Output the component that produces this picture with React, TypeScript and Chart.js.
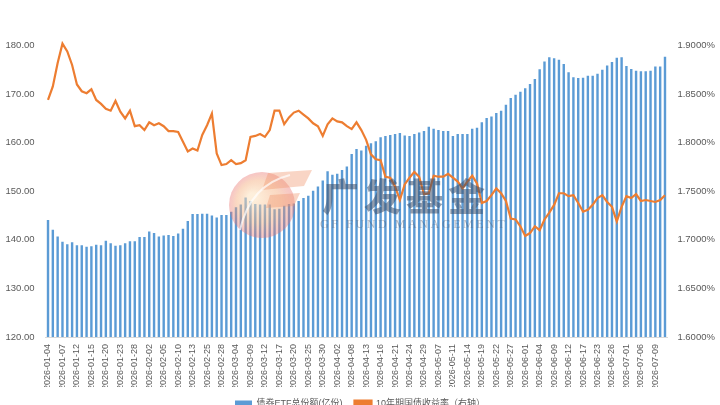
import React, { useEffect, useRef } from 'react';
import { Chart, registerables } from 'chart.js';

Chart.register(...registerables);

const dates = [
  '2026-01-04','2026-01-05','2026-01-06','2026-01-07','2026-01-08','2026-01-09','2026-01-12','2026-01-13','2026-01-14','2026-01-15',
  '2026-01-16','2026-01-19','2026-01-20','2026-01-21','2026-01-22','2026-01-23','2026-01-26','2026-01-27','2026-01-28','2026-01-29',
  '2026-01-30','2026-02-02','2026-02-03','2026-02-04','2026-02-05','2026-02-06','2026-02-09','2026-02-10','2026-02-11','2026-02-12',
  '2026-02-13','2026-02-14','2026-02-24','2026-02-25','2026-02-26','2026-02-27','2026-02-28','2026-03-02','2026-03-03','2026-03-04',
  '2026-03-05','2026-03-06','2026-03-09','2026-03-10','2026-03-11','2026-03-12','2026-03-13','2026-03-16','2026-03-17','2026-03-18',
  '2026-03-19','2026-03-20','2026-03-23','2026-03-24','2026-03-25','2026-03-26','2026-03-27','2026-03-30','2026-03-31','2026-04-01',
  '2026-04-02','2026-04-03','2026-04-07','2026-04-08','2026-04-09','2026-04-10','2026-04-13','2026-04-14','2026-04-15','2026-04-16',
  '2026-04-17','2026-04-20','2026-04-21','2026-04-22','2026-04-23','2026-04-24','2026-04-27','2026-04-28','2026-04-29','2026-04-30',
  '2026-05-06','2026-05-07','2026-05-08','2026-05-09','2026-05-11','2026-05-12','2026-05-13','2026-05-14','2026-05-15','2026-05-18',
  '2026-05-19','2026-05-20','2026-05-21','2026-05-22','2026-05-25','2026-05-26','2026-05-27','2026-05-28','2026-05-29','2026-06-01',
  '2026-06-02','2026-06-03','2026-06-04','2026-06-05','2026-06-08','2026-06-09','2026-06-10','2026-06-11','2026-06-12','2026-06-15',
  '2026-06-16','2026-06-17','2026-06-18','2026-06-22','2026-06-23','2026-06-24','2026-06-25','2026-06-26','2026-06-29','2026-06-30',
  '2026-07-01','2026-07-02','2026-07-03','2026-07-06','2026-07-07','2026-07-08','2026-07-09','2026-07-10','2026-07-13'
];

const etfShares = [
  144.1,142.1,140.7,139.6,139.1,139.5,138.9,138.9,138.6,138.7,
  139.0,138.9,139.8,139.3,138.8,138.9,139.3,139.7,139.7,140.6,
  140.6,141.7,141.4,140.7,140.9,141.0,140.8,141.3,142.3,143.9,
  145.3,145.3,145.4,145.4,145.0,144.6,145.1,145.1,145.8,146.7,
  147.3,148.7,148.0,147.4,147.3,147.3,147.3,146.3,146.4,147.0,
  147.4,147.5,148.0,148.6,149.1,150.1,151.0,152.2,154.1,153.4,
  153.6,154.4,155.1,157.7,158.7,158.4,159.4,159.9,160.3,161.1,
  161.4,161.6,161.8,162.0,161.5,161.4,161.8,162.1,162.4,163.3,
  162.9,162.6,162.4,162.4,161.4,161.8,161.8,161.8,162.9,163.1,
  164.2,165.1,165.4,166.1,166.6,167.8,169.2,169.9,170.5,171.2,
  172.1,173.1,175.1,176.7,177.6,177.4,177.1,176.2,174.5,173.5,
  173.3,173.4,173.8,173.8,174.2,175.0,175.9,176.6,177.5,177.6,
  175.8,175.2,174.8,174.7,174.7,174.8,175.7,175.7,177.7
];

const yield10y = [
  1.844,1.858,1.882,1.902,1.894,1.880,1.860,1.853,1.851,1.855,
  1.844,1.840,1.835,1.833,1.843,1.832,1.825,1.833,1.817,1.818,
  1.813,1.821,1.818,1.820,1.817,1.812,1.812,1.811,1.801,1.791,
  1.794,1.792,1.808,1.818,1.830,1.789,1.777,1.778,1.782,1.778,
  1.779,1.782,1.806,1.807,1.809,1.806,1.813,1.833,1.833,1.819,
  1.826,1.831,1.833,1.829,1.825,1.820,1.817,1.807,1.819,1.825,
  1.822,1.821,1.817,1.814,1.821,1.813,1.803,1.788,1.783,1.782,
  1.765,1.764,1.755,1.741,1.757,1.764,1.770,1.765,1.747,1.748,
  1.766,1.765,1.765,1.768,1.764,1.760,1.753,1.760,1.766,1.758,
  1.738,1.740,1.746,1.753,1.748,1.740,1.722,1.721,1.714,1.704,
  1.707,1.714,1.710,1.721,1.728,1.736,1.748,1.748,1.745,1.746,
  1.738,1.729,1.731,1.736,1.743,1.746,1.739,1.734,1.719,1.734,
  1.745,1.743,1.747,1.740,1.741,1.740,1.739,1.741,1.746
];

const seriesNames = ['债券ETF总份额(亿份)', '10年期国债收益率（右轴）'];
const leftRange = [120, 190, 10];
const rightRange = [1.6, 1.95, 0.05];

const FONT = '"Liberation Sans", "Noto Sans CJK SC", sans-serif';
const TEXT = '#595959';

const watermark = {
  id: 'watermark',
  afterDatasetsDraw(chart: any) {
    const ctx = chart.ctx as CanvasRenderingContext2D;
    ctx.save();
    const cx = 262, cy = 225, r = 33;
    const g = ctx.createRadialGradient(cx - 10, cy - 8, 4, cx, cy, r);
    g.addColorStop(0, 'rgba(252,226,190,0.55)');
    g.addColorStop(0.6, 'rgba(244,170,120,0.45)');
    g.addColorStop(1, 'rgba(232,110,110,0.40)');
    ctx.fillStyle = g;
    ctx.beginPath();
    ctx.arc(cx, cy, r, 0, Math.PI * 2);
    ctx.fill();
    ctx.fillStyle = 'rgba(240,150,110,0.40)';
    ctx.beginPath();
    ctx.moveTo(268, 193); ctx.lineTo(312, 190); ctx.lineTo(304, 206); ctx.lineTo(262, 210); ctx.closePath();
    ctx.fill();
    ctx.beginPath();
    ctx.moveTo(270, 215); ctx.lineTo(300, 213); ctx.lineTo(294, 226); ctx.lineTo(266, 228); ctx.closePath();
    ctx.fill();
    ctx.strokeStyle = 'rgba(255,255,255,0.7)';
    ctx.lineWidth = 2;
    ctx.beginPath();
    ctx.moveTo(240, 250); ctx.quadraticCurveTo(250, 205, 290, 195);
    ctx.stroke();
    ctx.fillStyle = 'rgba(60,78,105,0.55)';
    ctx.font = '900 37px "Noto Sans CJK SC"';
    (ctx as any).letterSpacing = '5px';
    ctx.textBaseline = 'alphabetic';
    ctx.fillText('广发基金', 322, 231);
    ctx.fillStyle = 'rgba(80,90,110,0.4)';
    ctx.font = '12px "Liberation Serif"';
    (ctx as any).letterSpacing = '2.6px';
    ctx.fillText('GF FUND MANAGEMENT', 320, 248);
    ctx.restore();
  },
};

export default function App() {
  const ref = useRef<HTMLCanvasElement>(null);
  useEffect(() => {
    if (!ref.current) return;
    const chart = new Chart(ref.current, {
      type: 'bar',
      data: {
        labels: dates,
        datasets: [
          {
            type: 'bar',
            label: seriesNames[0],
            data: etfShares,
            yAxisID: 'y',
            backgroundColor: '#5B9BD5',
            barPercentage: 0.5,
            categoryPercentage: 1,
            order: 1,
          },
          {
            type: 'line',
            label: seriesNames[1],
            data: yield10y,
            yAxisID: 'y1',
            borderColor: '#ED7D31',
            backgroundColor: '#ED7D31',
            borderWidth: 2.2,
            pointRadius: 0,
            tension: 0,
            order: 0,
          } as any,
        ],
      },
      options: {
        responsive: false,
        animation: false,
        layout: { padding: { top: 17, bottom: 0, left: 0, right: 0 } },
        plugins: {
          tooltip: { enabled: false },
          legend: {
            position: 'bottom',
            labels: {
              font: { family: FONT, size: 9 },
              color: TEXT,
              boxWidth: 17,
              boxHeight: 6,
              padding: 12,
              sort: (a: any, b: any) => a.datasetIndex - b.datasetIndex,
            },
          },
        },
        scales: {
          x: {
            grid: { display: false, drawTicks: false },
            border: { display: true, color: '#d9d9d9' },
            ticks: {
              autoSkip: false,
              maxRotation: 90,
              minRotation: 90,
              padding: 7,
              font: { family: FONT, size: 9 },
              color: TEXT,
              callback: (_v: any, i: number) => (i % 3 === 0 ? dates[i] : ''),
            },
            afterFit: (s: any) => { s.height = 50; },
          },
          y: {
            position: 'left',
            min: leftRange[0],
            max: leftRange[1],
            grid: { display: false, drawTicks: false },
            border: { display: false },
            ticks: {
              stepSize: leftRange[2],
              padding: 11,
              font: { family: FONT, size: 9.5 },
              color: TEXT,
              callback: (v: any) => Number(v).toFixed(2),
            },
            afterFit: (s: any) => { s.width = 45.6; },
          },
          y1: {
            position: 'right',
            min: rightRange[0],
            max: rightRange[1],
            grid: { display: false, drawTicks: false },
            border: { display: false },
            ticks: {
              stepSize: rightRange[2],
              padding: 10,
              font: { family: FONT, size: 9.5 },
              color: TEXT,
              callback: (v: any) => Number(v).toFixed(4) + '%',
            },
            afterFit: (s: any) => { s.width = 52.6; },
          },
        },
      },
      plugins: [watermark],
    });
    return () => chart.destroy();
  }, []);

  return (
    <div style={{ position: 'fixed', left: 0, top: 0, width: 720, height: 405, overflow: 'hidden', background: '#fff' }}>
      <canvas ref={ref} width={720} height={438} style={{ position: 'absolute', left: 0, top: -20, display: 'block' }} />
    </div>
  );
}
